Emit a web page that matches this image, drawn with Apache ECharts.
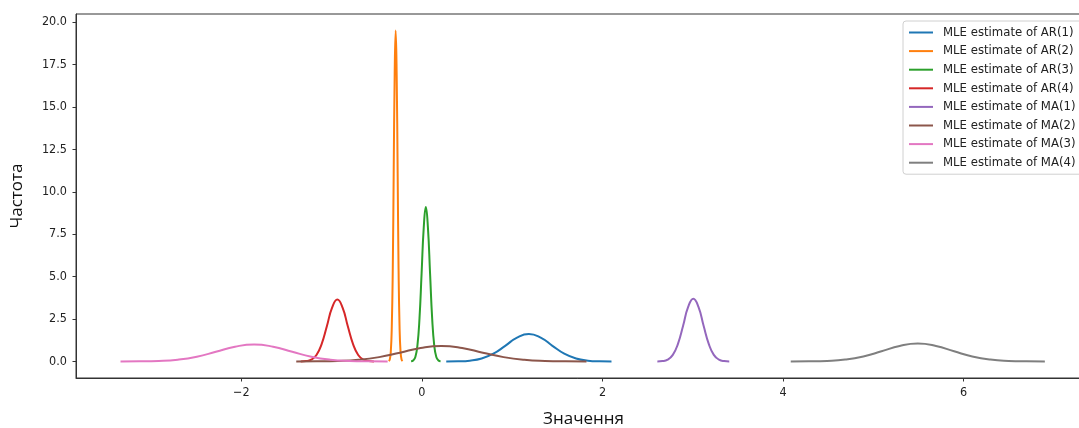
<!DOCTYPE html>
<html>
<head>
<meta charset="utf-8">
<script src="https://cdn.jsdelivr.net/npm/echarts@6/dist/echarts.min.js"></script>
<style>
  html, body { margin: 0; padding: 0; background: #fff; }
  #chart { width: 1079px; height: 428px; }
</style>
</head>
<body>
<div id="chart"></div>
<script>
// назви серій (як у легенді)
const seriesNames = [
  'MLE estimate of AR(1)', 'MLE estimate of AR(2)', 'MLE estimate of AR(3)', 'MLE estimate of AR(4)',
  'MLE estimate of MA(1)', 'MLE estimate of MA(2)', 'MLE estimate of MA(3)', 'MLE estimate of MA(4)'
];
const colors = ['#1f77b4', '#ff7f0e', '#2ca02c', '#d62728', '#9467bd', '#8c564b', '#e377c2', '#7f7f7f'];

// точки кривих
const ar1X = [0.270, 0.400, 0.531, 0.662, 0.792, 0.923, 1.054, 1.185, 1.316, 1.446, 1.577, 1.708, 1.839, 1.969, 2.100];
const ar1Y = [0.0016, 0.0101, 0.0476, 0.1695, 0.4547, 0.9211, 1.4068, 1.62, 1.4068, 0.9211, 0.4547, 0.1695, 0.0476, 0.0101, 0.0016];

const ar2X = [-0.366, -0.355, -0.344, -0.333, -0.322, -0.312, -0.301, -0.290, -0.279, -0.268, -0.258, -0.247, -0.236, -0.225, -0.214];
const ar2Y = [0.019, 0.121, 0.573, 2.040, 5.474, 11.088, 16.934, 19.5, 16.934, 11.088, 5.474, 2.040, 0.573, 0.121, 0.019];

const ar3X = [-0.119, -0.096, -0.072, -0.049, -0.026, -0.003, 0.021, 0.044, 0.067, 0.091, 0.114, 0.137, 0.160, 0.184, 0.207];
const ar3Y = [0.009, 0.057, 0.268, 0.952, 2.554, 5.174, 7.902, 9.1, 7.902, 5.174, 2.554, 0.952, 0.268, 0.057, 0.009];

const ar4X = [-1.341, -1.283, -1.225, -1.167, -1.110, -1.052, -0.994, -0.936, -0.878, -0.820, -0.762, -0.705, -0.647, -0.589, -0.531];
const ar4Y = [0.0036, 0.0227, 0.107, 0.382, 1.025, 2.075, 3.170, 3.65, 3.170, 2.075, 1.025, 0.382, 0.107, 0.0227, 0.0036];

const ma1X = [2.608, 2.665, 2.722, 2.779, 2.836, 2.893, 2.949, 3.006, 3.063, 3.120, 3.177, 3.233, 3.290, 3.347, 3.404];
const ma1Y = [0.0037, 0.023, 0.109, 0.387, 1.039, 2.104, 3.213, 3.7, 3.213, 2.104, 1.039, 0.387, 0.109, 0.023, 0.0037];

const ma2X = [-1.391, -1.161, -0.932, -0.702, -0.473, -0.243, -0.014, 0.216, 0.446, 0.675, 0.905, 1.134, 1.364, 1.593, 1.823];
const ma2Y = [0.0009, 0.0057, 0.0268, 0.0952, 0.2554, 0.5174, 0.7902, 0.91, 0.7902, 0.5174, 0.2554, 0.0952, 0.0268, 0.0057, 0.0009];

const ma3X = [-3.337, -3.126, -2.915, -2.703, -2.492, -2.281, -2.069, -1.858, -1.647, -1.435, -1.224, -1.013, -0.801, -0.590, -0.379];
const ma3Y = [0.001, 0.006, 0.029, 0.105, 0.281, 0.569, 0.868, 1.0, 0.868, 0.569, 0.281, 0.105, 0.029, 0.006, 0.001];

const ma4X = [4.085, 4.286, 4.487, 4.688, 4.889, 5.090, 5.291, 5.492, 5.693, 5.894, 6.095, 6.296, 6.497, 6.698, 6.899];
const ma4Y = [0.001, 0.0066, 0.031, 0.110, 0.296, 0.600, 0.916, 1.055, 0.916, 0.600, 0.296, 0.110, 0.031, 0.0066, 0.001];

// поділки осей
const xTicks = [-2, 0, 2, 4, 6];
const yTicks = [0, 2.5, 5, 7.5, 10, 12.5, 15, 17.5, 20];

const curvesX = [ar1X, ar2X, ar3X, ar4X, ma1X, ma2X, ma3X, ma4X];
const curvesY = [ar1Y, ar2Y, ar3Y, ar4Y, ma1Y, ma2Y, ma3Y, ma4Y];

const tickFont = 'DejaVu Sans Condensed, DejaVu Sans, sans-serif';
const titleFont = 'Open Sans, Noto Sans, sans-serif';

const chart = echarts.init(document.getElementById('chart'));

chart.setOption({
  animation: false,
  color: colors,
  grid: {
    left: 76, top: 14, width: 1015, height: 364,
    outerBoundsMode: 'none',
    containLabel: false,
    show: true, borderColor: '#333', borderWidth: 1, backgroundColor: '#fff'
  },
  legend: {
    orient: 'vertical',
    left: 903, top: 21,
    padding: [5, 40, 5, 5],
    itemWidth: 24, itemHeight: 14, itemGap: 5.6,
    borderColor: '#d0d0d0', borderWidth: 1, borderRadius: 3,
    backgroundColor: '#fff',
    itemStyle: { opacity: 0 },
    lineStyle: { width: 2 },
    textStyle: { fontFamily: tickFont, fontSize: 13, color: '#222', padding: [0, 0, 0, 5] },
    data: seriesNames
  },
  xAxis: {
    type: 'value',
    min: -3.83, max: 7.41,
    name: 'Значення',
    nameLocation: 'middle', nameGap: 33,
    nameTextStyle: { fontFamily: titleFont, fontSize: 17, color: '#111' },
    axisLine: { onZero: false, lineStyle: { color: '#333', width: 1 } },
    axisTick: { show: true, length: 3.5, customValues: xTicks, lineStyle: { color: '#333' } },
    axisLabel: {
      customValues: xTicks, margin: 8,
      fontFamily: tickFont, fontSize: 12.5, color: '#222',
      formatter: v => (v < 0 ? '\u2212' + Math.abs(v) : String(v))
    },
    splitLine: { show: false }
  },
  yAxis: {
    type: 'value',
    min: -0.975, max: 20.475,
    name: 'Частота',
    nameLocation: 'middle', nameGap: 50, nameRotate: 90,
    nameTextStyle: { fontFamily: titleFont, fontSize: 17, color: '#111' },
    axisLine: { show: true, onZero: false, lineStyle: { color: '#333', width: 1 } },
    axisTick: { show: true, length: 3.5, customValues: yTicks, lineStyle: { color: '#333' } },
    axisLabel: {
      customValues: yTicks, margin: 9,
      fontFamily: tickFont, fontSize: 12.5, color: '#222',
      formatter: v => v.toFixed(1)
    },
    splitLine: { show: false }
  },
  series: seriesNames.map((name, i) => ({
    name: name,
    type: 'line',
    symbol: 'none',
    smooth: true,
    lineStyle: { width: 2, color: colors[i] },
    data: curvesX[i].map((x, j) => [x, curvesY[i][j]])
  }))
});
</script>
</body>
</html>
